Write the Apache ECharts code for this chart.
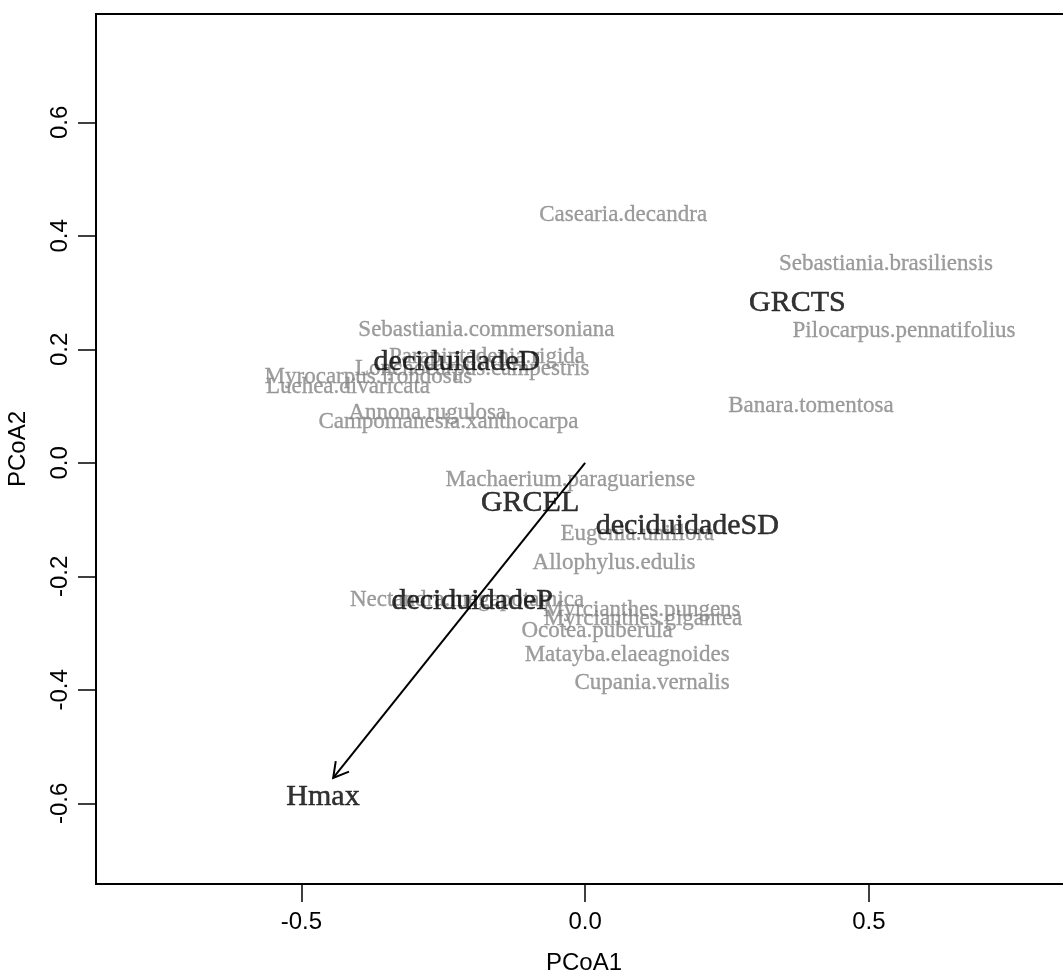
<!DOCTYPE html>
<html>
<head>
<meta charset="utf-8">
<script src="https://cdn.jsdelivr.net/npm/echarts@6/dist/echarts.min.js"></script>
<style>
html,body{margin:0;padding:0;background:#fff;}
#chart{width:1063px;height:974px;}
</style>
</head>
<body>
<div id="chart"></div>
<script>
// Species scores (gray labels)
const speciesNames = [
  "Casearia.decandra","Sebastiania.brasiliensis","Pilocarpus.pennatifolius",
  "Sebastiania.commersoniana","Parapiptadenia.rigida","Lonchocarpus.campestris",
  "Myrocarpus.frondosus","Luehea.divaricata","Annona.rugulosa",
  "Campomanesia.xanthocarpa","Banara.tomentosa","Machaerium.paraguariense",
  "Eugenia.uniflora","Allophylus.edulis","Nectandra.megapotamica",
  "Myrcianthes.pungens","Myrcianthes.gigantea","Ocotea.puberula",
  "Matayba.elaeagnoides","Cupania.vernalis"
];
const speciesX = [0.067,0.530,0.562,-0.174,-0.173,-0.199,-0.382,-0.418,-0.278,-0.241,0.398,-0.026,0.092,0.051,-0.208,0.100,0.102,0.021,0.074,0.118];
const speciesY = [0.437,0.351,0.233,0.234,0.187,0.166,0.152,0.134,0.088,0.072,0.100,-0.030,-0.125,-0.176,-0.241,-0.259,-0.275,-0.296,-0.338,-0.388];

// Trait / factor scores (black labels)
const varNames = ["GRCTS","deciduidadeD","GRCEL","deciduidadeSD","deciduidadeP","Hmax"];
const varX = [0.374,-0.226,-0.097,0.180,-0.199,-0.462];
const varY = [0.282,0.178,-0.070,-0.111,-0.243,-0.589];

// Vector arrow (Hmax)
const arrowStart = [0, 0];
const arrowEnd = [-0.444, -0.555];

// Axis ticks
const xTicks = [-0.5, 0, 0.5];
const yTicks = [-0.6, -0.4, -0.2, 0, 0.2, 0.4, 0.6];

const sansFont = "'Liberation Sans', Arial, Helvetica, sans-serif";
const serifFont = "'Liberation Serif', 'Times New Roman', serif";

const chart = echarts.init(document.getElementById('chart'), null, {renderer: 'canvas'});

const option = {
  backgroundColor: '#ffffff',
  animation: false,
  grid: {
    left: 96, top: 14, width: 976, height: 870,
    show: true, borderColor: '#000', borderWidth: 2,
    containLabel: false, outerBoundsMode: 'none'
  },
  xAxis: {
    type: 'value', min: -0.862, max: 0.858,
    splitLine: {show: false},
    axisLine: {show: false, onZero: false},
    axisTick: {show: true, length: 18, inside: false, customValues: xTicks, lineStyle: {color: '#000', width: 1.5}},
    axisLabel: {show: true, customValues: xTicks, margin: 26, color: '#000', fontSize: 24, fontFamily: sansFont,
      formatter: v => v.toFixed(1)},
    name: 'PCoA1', nameLocation: 'middle', nameGap: 67,
    nameTextStyle: {color: '#000', fontSize: 24, fontFamily: sansFont}
  },
  yAxis: {
    type: 'value', min: -0.742, max: 0.791,
    splitLine: {show: false},
    axisLine: {show: false, onZero: false},
    axisTick: {show: true, length: 18, inside: false, customValues: yTicks, lineStyle: {color: '#000', width: 1.5}},
    axisLabel: {show: true, customValues: yTicks, rotate: 90, margin: 24, color: '#000', fontSize: 24, fontFamily: sansFont,
      formatter: v => v.toFixed(1)},
    name: 'PCoA2', nameLocation: 'middle', nameGap: 66, nameRotate: 90,
    nameTextStyle: {color: '#000', fontSize: 24, fontFamily: sansFont}
  },
  series: [
    {
      type: 'scatter', z: 2,
      symbolSize: 0,
      data: speciesNames.map((n, i) => ({name: n, value: [speciesX[i], speciesY[i]]})),
      label: {show: true, position: 'inside', formatter: p => p.name,
        color: '#858585', fontSize: 23, fontFamily: serifFont,
        textBorderColor: '#858585', textBorderWidth: 0.3},
      emphasis: {disabled: true}
    },
    {
      type: 'scatter', z: 3,
      symbolSize: 0,
      data: varNames.map((n, i) => ({name: n, value: [varX[i], varY[i]]})),
      label: {show: true, position: 'inside', formatter: p => p.name,
        color: '#000000', fontSize: 30, fontFamily: serifFont,
        textBorderColor: '#000000', textBorderWidth: 0.5},
      emphasis: {disabled: true}
    },
    {
      type: 'custom', z: 10,
      data: [[arrowStart[0], arrowStart[1], arrowEnd[0], arrowEnd[1]]],
      encode: {x: [0, 2], y: [1, 3]},
      renderItem: function (params, api) {
        const p0 = api.coord([api.value(0), api.value(1)]);
        const p1 = api.coord([api.value(2), api.value(3)]);
        const ang = Math.atan2(p1[1] - p0[1], p1[0] - p0[0]);
        const L = 17, a = Math.PI / 6;
        const h1 = [p1[0] - L * Math.cos(ang - a), p1[1] - L * Math.sin(ang - a)];
        const h2 = [p1[0] - L * Math.cos(ang + a), p1[1] - L * Math.sin(ang + a)];
        return {
          type: 'group',
          children: [
            {type: 'line', shape: {x1: p0[0], y1: p0[1], x2: p1[0], y2: p1[1]}, style: {stroke: '#000', lineWidth: 2}},
            {type: 'polyline', shape: {points: [h1, p1, h2]}, style: {stroke: '#000', lineWidth: 2, fill: null}}
          ]
        };
      }
    }
  ]
};
chart.setOption(option);
</script>
</body>
</html>
